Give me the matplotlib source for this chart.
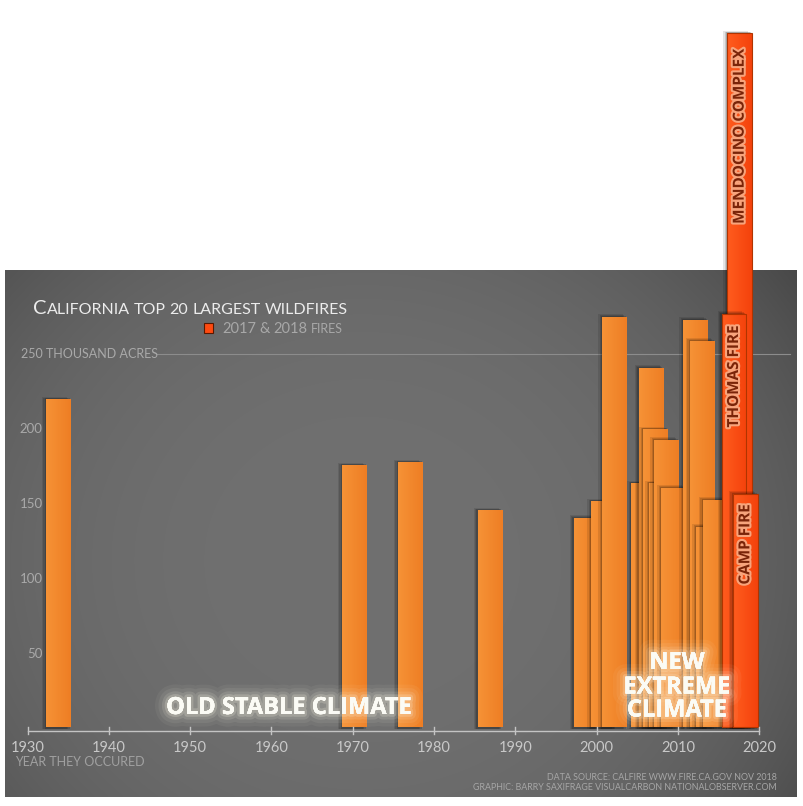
import numpy as np
import matplotlib
matplotlib.use('Agg')
import matplotlib.pyplot as plt
import matplotlib.patheffects as pe
from matplotlib.patches import Rectangle
from matplotlib import font_manager

# top 20 fires: bar centre on the year axis (as drawn) and size in thousand acres
fire_names = ['Matilija', 'Laguna', 'Marble Cone', 'Stanislaus Complex', 'Big Bar Complex',
              'McNally', 'Cedar', 'Day', 'Zaca', 'Witch', 'Basin Complex',
              'Klamath Theater Complex', 'Station', 'Rush', 'Rim', 'Unnamed', 'Rough',
              'Mendocino Complex', 'Thomas', 'Camp']
fire_x = [1933.8, 1970.2, 1977.1, 1986.9, 1998.7,
          2000.9, 2002.2, 2005.8, 2006.7, 2007.3, 2008.0,
          2008.6, 2009.5, 2012.2, 2013.0, 2013.8, 2014.6,
          2017.6, 2016.9, 2018.3]
fire_size = [220, 176, 178, 146, 141,
             152, 275, 164, 241, 200, 164,
             193, 161, 273, 259, 135, 153,
             464, 277, 157]
recent = ['Mendocino Complex', 'Thomas', 'Camp']
bar_labels = {'Mendocino Complex': 'MENDOCINO COMPLEX', 'Thomas': 'THOMAS FIRE', 'Camp': 'CAMP FIRE'}
label_y = {'Mendocino Complex': 395, 'Thomas': 235, 'Camp': 123}

year_ticks = [1930, 1940, 1950, 1960, 1970, 1980, 1990, 2000, 2010, 2020]
size_ticks = [50, 100, 150, 200]

bar_w = 3.07

# pixel <-> data helpers (1930 at px 27.5, 8.13 px per year, 0 at px 729, 1.5 px per thousand)
def px(x):
    return 1930 + (x - 27.5) / 8.13

def py(y):
    return (729 - y) / 1.5

PX = 1 / 8.13   # one pixel in years

fams = set(f.name for f in font_manager.fontManager.ttflist)
narrow = 'Liberation Sans Narrow' if 'Liberation Sans Narrow' in fams else 'Lato'
plain = 'Lato'
boldf = 'Open Sans'

fig = plt.figure(figsize=(8.04, 8.06), dpi=100, facecolor='white')
ax = fig.add_axes([0, 0, 1, 1])
ax.set_xlim(px(0), px(804))
ax.set_ylim(py(806), py(0))
ax.axis('off')

# gray vignette panel
H, W = 260, 400
yy, xx = np.mgrid[0:H, 0:W]
d = ((xx / W - 0.45) / 0.62) ** 2 + ((yy / H - 0.55) / 0.85) ** 2
v = np.clip(112 - 30 * d ** 1.5, 66, 120) / 255.0
img = np.dstack([v, v, v])
ax.imshow(img, extent=[px(5), px(797), py(797), py(270)], aspect='auto', zorder=0,
          interpolation='bicubic')

# 250 gridline and y labels
ax.plot([px(157), px(790)], [250, 250], color='#8c8c8c', lw=0.8, zorder=1)
ax.text(px(21), 250, '250 THOUSAND ACRES', fontsize=9, family=plain, color='#a9a9a9',
        ha='left', va='center', zorder=1)
for s in size_ticks:
    ax.text(px(42.5), s, str(s), fontsize=9.5, family=plain, color='#a9a9a9',
            ha='right', va='center', zorder=1)

# bars
grad = np.linspace(0, 1, 32)[None, :]
for i, (name, x, h) in enumerate(zip(fire_names, fire_x, fire_size)):
    z = 2 + 3 * i
    left = x - bar_w / 2
    # soft shadow, cast to the left
    for k, a in [(4.0, 0.10), (2.5, 0.13), (1.2, 0.16)]:
        ax.add_patch(Rectangle((left - k * PX, py(729)), bar_w, h + k * 0.4,
                               facecolor='black', edgecolor='none', alpha=a, zorder=z))
    if name in recent:
        c0, c1, ec, lw = np.array([255, 92, 30]), np.array([244, 66, 12]), '#b03400', 0.8
    else:
        c0, c1, ec, lw = np.array([246, 146, 54]), np.array([238, 126, 36]), 'none', 0
    rect = Rectangle((left, py(727)), bar_w, h - py(727), facecolor='none', edgecolor=ec,
                     lw=lw, zorder=z + 2)
    cols = (c0[None, None, :] * (1 - grad[..., None]) + c1[None, None, :] * grad[..., None]) / 255.0
    im = ax.imshow(cols, extent=[left, left + bar_w, py(727), h], aspect='auto',
                   zorder=z + 1, interpolation='bilinear')
    ax.add_patch(rect)
    im.set_clip_path(rect)
    if name in bar_labels:
        ax.text(x, label_y[name], bar_labels[name], rotation=90, fontsize=11, family=boldf,
                weight='bold', color='#7a2408', ha='center', va='center', zorder=80,
                path_effects=[pe.withStroke(linewidth=3, foreground='#f7a47c')])

# x axis
ax.plot([year_ticks[0], year_ticks[-1]], [py(730.7), py(730.7)], color='#c4c4c4', lw=1.0, zorder=90)
for t in year_ticks:
    ax.plot([t, t], [py(727), py(734)], color='#c4c4c4', lw=1.0, zorder=90)
    ax.text(t, py(748), str(t), fontsize=10.5, family=plain, color='#c8c8c8',
            ha='center', va='center', zorder=90)
ax.text(px(15), py(762.5), 'YEAR THEY OCCURED', fontsize=9, family=plain, color='#a0a0a0',
        ha='left', va='center', zorder=90)

# climate labels with glow
glow = [pe.withStroke(linewidth=18, foreground='#fffbe8', alpha=0.05),
        pe.withStroke(linewidth=13, foreground='#fffbe8', alpha=0.07),
        pe.withStroke(linewidth=8, foreground='#fffbe8', alpha=0.12),
        pe.withStroke(linewidth=4, foreground='#fffbe8', alpha=0.2),
        pe.Normal()]
ax.text(px(289), py(714), 'OLD STABLE CLIMATE', fontsize=17, family=boldf, weight='bold',
        color='#fbfbf5', ha='center', va='baseline', zorder=95, path_effects=glow)
for word, yb in [('NEW', 669), ('EXTREME', 693.5), ('CLIMATE', 716.5)]:
    ax.text(px(677), py(yb), word, fontsize=17, family=boldf, weight='bold',
            color='#fbfbf5', ha='center', va='baseline', zorder=95, path_effects=glow)

# small-caps style text made of pieces
renderer = fig.canvas.get_renderer()

def pieces_text(x0, ybase, pieces, color, family):
    x = x0
    for txt, size in pieces:
        if txt == ' ':
            x += size
            continue
        t = ax.text(px(x), py(ybase), txt, fontsize=size, family=family, color=color,
                    ha='left', va='baseline', zorder=95)
        x += t.get_window_extent(renderer).width

pieces_text(33, 314.3, [('C', 14.5), ('ALIFORNIA', 11.5), (' ', 4), ('TOP', 11.5), (' ', 4),
                        ('20', 11.5), (' ', 4), ('LARGEST', 11.5), (' ', 4), ('WILDFIRES', 11.5)],
            '#ececec', plain)
ax.add_patch(Rectangle((px(204), py(333)), px(213) - px(204), py(323) - py(333),
                       facecolor='#ff4a10', edgecolor='#5a1800', lw=0.8, zorder=95))
pieces_text(222, 333.3, [('2017', 10.5), (' ', 3.5), ('&', 10.5), (' ', 3.5), ('2018', 10.5),
                         (' ', 3.5), ('FIRES', 9)], '#a8a8a8', plain)

# footer
ax.text(px(777), py(777), 'DATA SOURCE: CALFIRE WWW.FIRE.CA.GOV NOV 2018', fontsize=6.4,
        family=narrow, color='#a6a6a6', ha='right', va='center', zorder=95)
ax.text(px(777), py(787), 'GRAPHIC: BARRY SAXIFRAGE VISUALCARBON NATIONALOBSERVER.COM', fontsize=6.4,
        family=narrow, color='#a6a6a6', ha='right', va='center', zorder=95)

fig.savefig('out.png', dpi=100, facecolor='white')
